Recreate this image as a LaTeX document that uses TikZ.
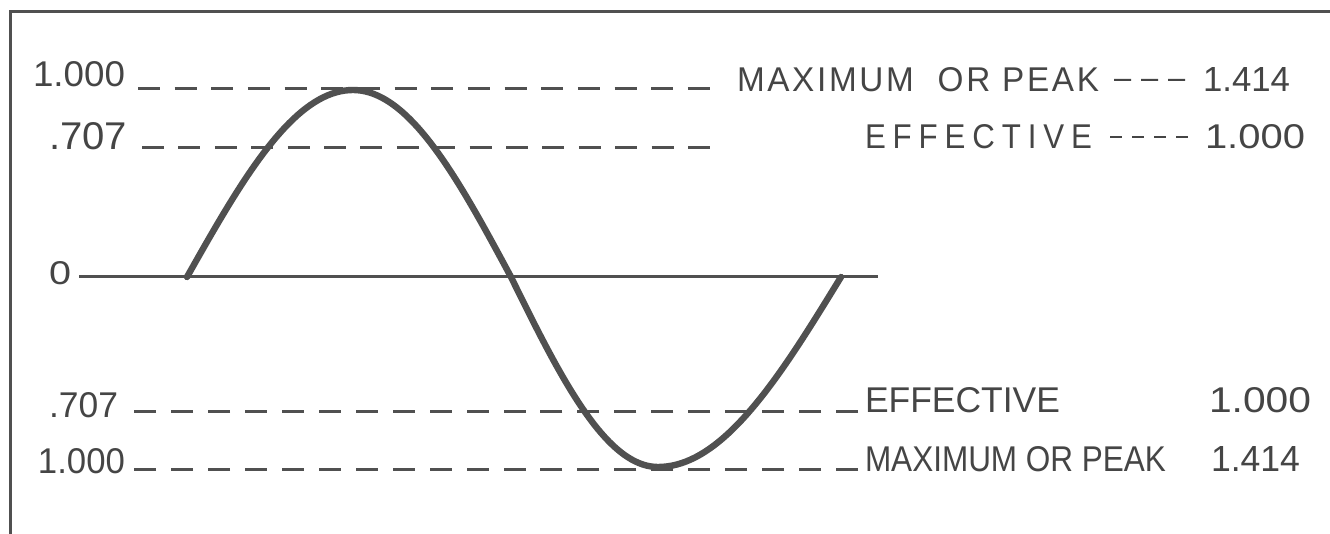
\documentclass[tikz,border=0pt]{standalone}
\usepackage{fontspec}
\setmainfont{Liberation Sans}
\usetikzlibrary{calc}
\definecolor{ink}{HTML}{505050}
\definecolor{txt}{HTML}{454545}
\newlength\pxu
\setlength\pxu{0.5pt}
\newcommand{\fitbox}[3]{\resizebox{#1\pxu}{#2\pxu}{#3}}
\begin{document}
\begin{tikzpicture}[x=0.5pt,y=-0.5pt,
  lbl/.style={anchor=south west, inner sep=0pt, outer sep=0pt, text=txt},
  dashln/.style={draw=ink, line width=1.5pt, dash pattern=on 11pt off #1pt},
  zeroln/.style={draw=ink, line width=1.5pt},
  textdash/.style={draw=txt, line width=1pt},
  wave/.style={draw=ink, line width=3.2pt, line join=round, line cap=round},
  frame/.style={draw=ink, line width=1.5pt}]
\useasboundingbox (0,0) rectangle (1330,534);
\fill[white] (0,0) rectangle (1330,534);
% frame (top and left edges)
\draw[frame] (1330,12) -- (10,12) -- (10,534);
% left labels
\node[lbl] (L1) at (33,87)  {\fitbox{92}{25}{1.000}};
\node[lbl] (L2) at (49,150) {\fitbox{78}{27}{.707}};
\node[lbl] (L0) at (49,285) {\fitbox{22}{23}{0}};
\node[lbl] (L3) at (49,418) {\fitbox{69}{25}{.707}};
\node[lbl] (L4) at (38,474) {\fitbox{87}{25}{1.000}};
% right labels
\node[lbl] (M1) at (737,92)  {\fitbox{362}{24}{\addfontfeature{LetterSpace=8}MAXIMUM\ \ OR PEAK}};
\node[lbl] (V1) at (1203,92) {\fitbox{87}{24}{1.414}};
\node[lbl] (E1) at (865,149) {\fitbox{227}{24}{\addfontfeature{LetterSpace=22}EFFECTIVE}};
\node[lbl] (V2) at (1205,149) {\fitbox{100}{24}{1.000}};
\node[lbl] (E2) at (865,413) {\fitbox{195}{25}{EFFECTIVE}};
\node[lbl] (V3) at (1209,413) {\fitbox{102}{25}{1.000}};
\node[lbl] (M2) at (865,472) {\fitbox{301}{25}{MAXIMUM OR PEAK}};
\node[lbl] (V4) at (1211,472) {\fitbox{89}{25}{1.414}};
% free ends
\coordinate (c1) at (710,89);
\coordinate (c2) at (710,148);
\coordinate (cz) at (878,277);
% level lines
\draw[dashln=7.33] (L1.south east) ++(13,2) -- (c1);
\draw[dashln=7.2] (L2.south east) ++(15,-2) -- (c2);
\draw[zeroln] (L0.south east) ++(8,-8) -- (cz);
\draw[dashln=7.47] ($(E2.south west)+(-7,-1)$) -- ($(L3.south east)+(16,-6)$);
\draw[dashln=7.47] ($(M2.south west)+(-7,-2)$) -- ($(L4.south east)+(9,-4)$);
% dashes between labels and values
\draw[textdash, dash pattern=on 8.5pt off 5pt] ($(M1.east)+(15,0)$) -- ($(V1.west)+(-18,0)$);
\draw[textdash, dash pattern=on 6pt off 5pt] ($(E1.east)+(18,0)$) -- ($(V2.west)+(-17,0)$);
% sine wave
\draw[wave]
  plot[domain=0:90, samples=40, variable=\t] ({187+1.8444*\t},{277-187*sin(\t)})
  -- plot[domain=0:90, samples=40, variable=\t] ({353+1.7556*\t},{277-187*cos(\t)})
  -- plot[domain=0:90, samples=40, variable=\t] ({511+1.6333*\t},{277+190*sin(\t)})
  -- plot[domain=0:90, samples=40, variable=\t] ({658+2.0333*\t},{277+190*cos(\t)});
\end{tikzpicture}
\end{document}
